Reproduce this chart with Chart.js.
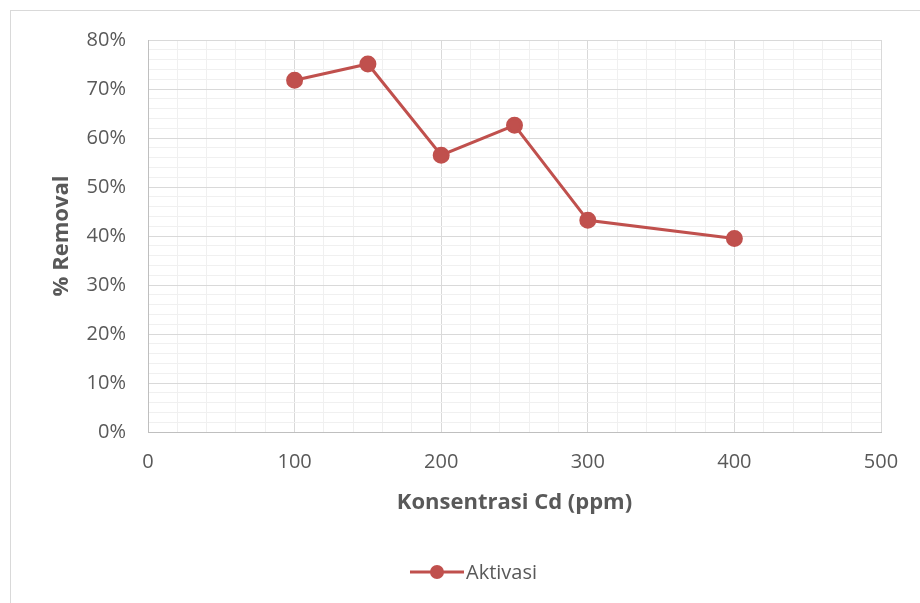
<!DOCTYPE html>
<html>
<head>
<meta charset="utf-8">
<script src="https://cdn.jsdelivr.net/npm/chart.js@4/dist/chart.umd.min.js"></script>
<style>
  html, body { margin: 0; padding: 0; background: #ffffff; }
  canvas { display: block; }
</style>
</head>
<body>
<canvas id="chart" width="920" height="603"></canvas>
<script>
// Cd concentration (ppm) and removal efficiency (%)
const concentrations = [100, 150, 200, 250, 300, 400];
const removalPercent = [71.8, 75.1, 56.5, 62.6, 43.2, 39.5];
const seriesLabel = 'Aktivasi';
const xTitle = 'Konsentrasi Cd (ppm)';
const yTitle = '% Removal';

const seriesColor = '#c0504d';
const textColor = '#595959';
const fontFamily = '"Open Sans", sans-serif';

const points = concentrations.map((x, i) => ({ x: x, y: removalPercent[i] }));

// Outer frame around the whole chart
const framePlugin = {
  id: 'frame',
  beforeDraw(chart) {
    const ctx = chart.ctx;
    ctx.save();
    ctx.fillStyle = '#ffffff';
    ctx.fillRect(0, 0, chart.width, chart.height);
    ctx.strokeStyle = '#d9d9d9';
    ctx.lineWidth = 1;
    ctx.strokeRect(10.5, 10.5, chart.width + 20, chart.height + 20);
    ctx.restore();
  }
};

// Legend: line with marker followed by the series name, below the axis title
const legendPlugin = {
  id: 'lineLegend',
  afterDraw(chart) {
    const ctx = chart.ctx;
    const ds = chart.data.datasets[0];
    ctx.save();
    ctx.font = '20px ' + fontFamily;
    const textW = ctx.measureText(ds.label).width;
    const lineW = 54;
    const gap = 2;
    const total = lineW + gap + textW;
    const center = (chart.chartArea.left + chart.chartArea.right) / 2 - 41;
    const y = 572;
    const x0 = center - total / 2;
    ctx.strokeStyle = ds.borderColor;
    ctx.lineWidth = 3;
    ctx.beginPath();
    ctx.moveTo(x0, y);
    ctx.lineTo(x0 + lineW, y);
    ctx.stroke();
    ctx.fillStyle = ds.pointBackgroundColor;
    ctx.beginPath();
    ctx.arc(x0 + lineW / 2, y, 7, 0, Math.PI * 2);
    ctx.fill();
    ctx.fillStyle = textColor;
    ctx.textBaseline = 'middle';
    ctx.textAlign = 'left';
    ctx.fillText(ds.label, x0 + lineW + gap, y + 1);
    ctx.restore();
  }
};

new Chart(document.getElementById('chart'), {
  type: 'scatter',
  data: {
    datasets: [{
      label: seriesLabel,
      data: points,
      showLine: true,
      borderColor: seriesColor,
      backgroundColor: seriesColor,
      pointBackgroundColor: seriesColor,
      pointBorderColor: seriesColor,
      borderWidth: 3,
      pointRadius: 7,
      pointHoverRadius: 7,
      tension: 0
    }]
  },
  options: {
    responsive: false,
    animation: false,
    events: [],
    layout: { padding: { top: 40, right: 39, bottom: 61, left: 0 } },
    plugins: {
      legend: { display: false },
      tooltip: { enabled: false }
    },
    scales: {
      x: {
        type: 'linear',
        min: 0,
        max: 500,
        afterFit(scale) { scale.height = 110; },
        ticks: {
          stepSize: 20,
          autoSkip: false,
          maxRotation: 0,
          padding: 18,
          color: textColor,
          font: { family: fontFamily, size: 20 },
          callback: (v) => (v % 100 === 0 ? String(v) : '')
        },
        grid: {
          drawTicks: false,
          color: (c) => (c.tick && c.tick.value % 100 === 0 ? '#d9d9d9' : '#f0f0f0'),
          lineWidth: 1
        },
        border: { display: true, color: '#bfbfbf', width: 1 },
        title: {
          display: true,
          text: xTitle,
          color: textColor,
          font: { family: fontFamily, size: 22, weight: 'bold' },
          padding: { top: 0, bottom: 26 }
        }
      },
      y: {
        type: 'linear',
        min: 0,
        max: 80,
        afterFit(scale) { scale.width = 148; },
        ticks: {
          stepSize: 2,
          autoSkip: false,
          padding: 22,
          color: textColor,
          font: { family: fontFamily, size: 20 },
          callback: (v) => (Math.round(v) % 10 === 0 ? Math.round(v) + '%' : '')
        },
        grid: {
          drawTicks: false,
          color: (c) => (c.tick && Math.round(c.tick.value) % 10 === 0 ? '#d9d9d9' : '#f0f0f0'),
          lineWidth: 1
        },
        border: { display: true, color: '#bfbfbf', width: 1 },
        title: {
          display: true,
          text: yTitle,
          color: textColor,
          font: { family: fontFamily, size: 22, weight: 'bold' },
          padding: { top: 49, bottom: 0 }
        }
      }
    }
  },
  plugins: [framePlugin, legendPlugin]
});
</script>
</body>
</html>
